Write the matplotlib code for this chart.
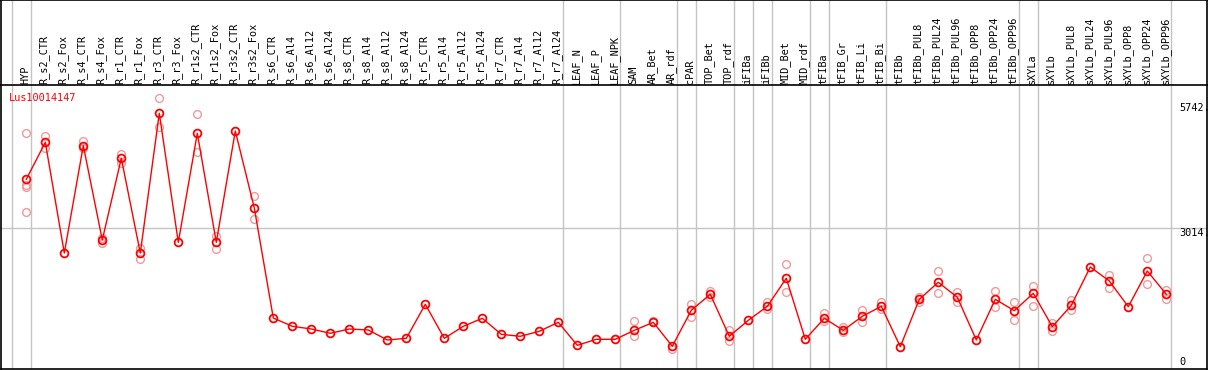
import numpy as np
import matplotlib
matplotlib.use('Agg')
import matplotlib.pyplot as plt
from matplotlib.transforms import IdentityTransform

# Echantillons (colonnes)
samples = ['HYP', 'R_s2_CTR', 'R_s2_Fox', 'R_s4_CTR', 'R_s4_Fox', 'R_r1_CTR', 'R_r1_Fox',
           'R_r3_CTR', 'R_r3_Fox', 'R_r1s2_CTR', 'R_r1s2_Fox', 'R_r3s2_CTR', 'R_r3s2_Fox',
           'R_s6_CTR', 'R_s6_Al4', 'R_s6_Al12', 'R_s6_Al24', 'R_s8_CTR', 'R_s8_Al4',
           'R_s8_Al12', 'R_s8_Al24', 'R_r5_CTR', 'R_r5_Al4', 'R_r5_Al12', 'R_r5_Al24',
           'R_r7_CTR', 'R_r7_Al4', 'R_r7_Al12', 'R_r7_Al24', 'LEAF_N', 'LEAF_P', 'LEAF_NPK',
           'SAM', 'AR_Bet', 'AR_rdf', 'cPAR', 'TOP_Bet', 'TOP_rdf', 'iFIBa', 'iFIBb',
           'MID_Bet', 'MID_rdf', 'tFIBa', 'tFIB_Gr', 'tFIB_Li', 'tFIB_Bi', 'tFIBb',
           'tFIBb_PUL8', 'tFIBb_PUL24', 'tFIBb_PUL96', 'tFIBb_OPP8', 'tFIBb_OPP24',
           'tFIBb_OPP96', 'sXYLa', 'sXYLb', 'sXYLb_PUL8', 'sXYLb_PUL24', 'sXYLb_PUL96',
           'sXYLb_OPP8', 'sXYLb_OPP24', 'sXYLb_OPP96']

# Taille des groupes (lignes grises de separation)
group_sizes = [1, 28, 3, 3, 1, 2, 1, 1, 2, 1, 3, 7, 1, 7]

# Valeurs moyennes
means = [4079, 4883, 2478, 4809, 2761, 4535, 2478, 5512, 2710, 5078, 2710, 5128, 3456,
         1066, 886, 828, 734, 828, 806, 589, 625, 1364, 625, 886, 1060, 712, 669, 778, 973,
         473, 604, 604, 799, 973, 452, 1234, 1581, 669, 1016, 1320, 1929, 604,
         1060, 799, 1103, 1320, 443, 1473, 1842, 1516, 589, 1473, 1225,
         1603, 878, 1342, 2174, 1870, 1312, 2087, 1581]

# Replicats visibles
rep_idx = [0, 0, 0, 0, 1, 1, 3, 3, 4, 4, 5, 5, 6, 6, 7, 7, 9, 9, 10, 10, 12, 12,
           32, 32, 33, 34, 35, 35, 36, 36, 37, 37, 39, 39, 40, 40, 42, 42, 43, 43,
           44, 44, 45, 45, 47, 47, 48, 48, 49, 49, 51, 51, 52, 52, 53, 53, 54, 54,
           55, 55, 57, 57, 59, 59, 60, 60]
rep_val = [5078, 3955, 3905, 3362, 5020, 4752, 4918, 4752, 2689, 2797, 4635, 4440,
           2587, 2355, 5838, 5215, 5490, 4679, 2848, 2558, 3710, 3210,
           995, 669, 995, 400, 1364, 1082, 1660, 1529, 799, 560, 1407, 1255, 2233, 1625,
           1169, 995, 878, 756, 1240, 973, 1407, 1269, 1516, 1407, 2081, 1603,
           1638, 1407, 1653, 1299, 1407, 1016, 1755, 1320, 951, 791,
           1457, 1240, 2000, 1725, 2363, 1805, 1675, 1486]

gene = 'Lus10014147'
axis_ticks = [5742, 3014, 0]
axis_labels = ['5742.', '3014.', '0']
hline_val = 3014

W, H = 1209, 370
fig = plt.figure(figsize=(W / 100, H / 100), dpi=100)
fig.patch.set_facecolor('white')

# pixels -> coordonnees
x0, x1 = 1, 1207
col0, step = 26.3, 19.0
xlim = ((x0 - col0) / step, (x1 - col0) / step)
ppu = 0.04604          # pixels par unite
y_zero = 367.1         # pixel de la valeur 0
ylim = ((y_zero - 369) / ppu, (y_zero - 85) / ppu)

ax_h = fig.add_axes([x0 / W, (H - 85) / H, (x1 - x0) / W, 85 / H])
ax = fig.add_axes([x0 / W, (H - 369) / H, (x1 - x0) / W, 284 / H])

mono = 'DejaVu Sans Mono'
grey = '#c4c4c4'
fs = 7.4
seps = np.concatenate([[0], np.cumsum(group_sizes)]) - 1 + 0.23

for a in (ax_h, ax):
    a.set_xlim(*xlim)
    a.set_xticks([])
    a.set_yticks([])
    for s in a.spines.values():
        s.set_color('black')
        s.set_linewidth(1.2)
    for sx in seps:
        a.axvline(sx, color=grey, lw=1.0, zorder=0)

ax_h.set_ylim(85, 0)
ax_h.spines['bottom'].set_visible(False)
ax.set_ylim(*ylim)

# Etiquettes verticales
for i, s in enumerate(samples):
    ax_h.text(i - 0.07, 84, s, rotation=90, ha='center', va='bottom',
              fontsize=fs, family=mono, color='black')

ax.axhline(hline_val, color=grey, lw=1.0, zorder=0)

x = np.arange(len(samples))
ax.plot(rep_idx, rep_val, 'o', mfc='none', mec='#f09a9a', ms=5.6, mew=1.0, zorder=2)
ax.plot(x, means, '-', color='red', lw=1.0, zorder=3)
ax.plot(x, means, 'o', mfc='none', mec='red', ms=5.6, mew=1.3, zorder=4)

# Nom du gene (coordonnees en pixels)
ax.text(9, H - 101, gene, transform=IdentityTransform(), fontsize=fs, family=mono,
        color='red', ha='left', va='baseline')

xt = (1179 - col0) / step
for v, lab in zip(axis_ticks, axis_labels):
    ax.text(xt, v, lab, fontsize=fs, family=mono, color='black', ha='left',
            va='top' if v > 0 else 'bottom')

fig.savefig('out.png', dpi=100)
